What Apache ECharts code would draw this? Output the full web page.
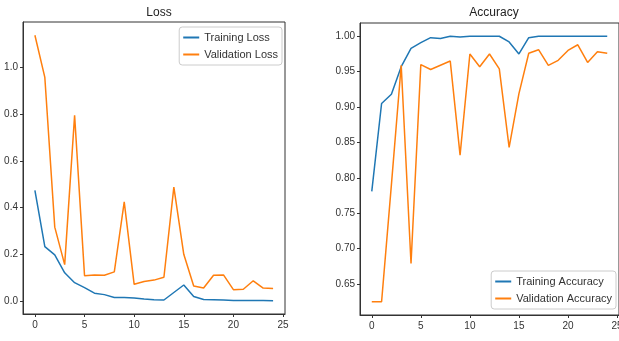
<!DOCTYPE html>
<html>
<head>
<meta charset="utf-8">
<script src="https://cdn.jsdelivr.net/npm/echarts@6/dist/echarts.min.js"></script>
<style>
  html, body { margin: 0; padding: 0; background: #fff; }
  #chart { width: 619px; height: 341px; }
</style>
</head>
<body>
<div id="chart"></div>
<script>
// epochs 0..24
const epochs = Array.from({ length: 25 }, (_, i) => i);
const xTicks = [0, 5, 10, 15, 20, 25];

const trainLoss = [0.474, 0.234, 0.199, 0.122, 0.080, 0.059, 0.035, 0.029, 0.017, 0.017,
  0.015, 0.010, 0.007, 0.006, 0.038, 0.070, 0.021, 0.008, 0.007, 0.006,
  0.004, 0.004, 0.004, 0.004, 0.003];
const valLoss = [1.136, 0.956, 0.317, 0.157, 0.794, 0.110, 0.113, 0.112, 0.126, 0.425,
  0.073, 0.085, 0.091, 0.103, 0.488, 0.201, 0.066, 0.057, 0.112, 0.113,
  0.050, 0.052, 0.088, 0.057, 0.055];
const lossTicks = [0.0, 0.2, 0.4, 0.6, 0.8, 1.0];

const trainAcc = [0.781, 0.905, 0.918, 0.957, 0.983, 0.991, 0.998, 0.997, 1.0, 0.999,
  1.0, 1.0, 1.0, 1.0, 0.992, 0.975, 0.998, 1.0, 1.0, 1.0,
  1.0, 1.0, 1.0, 1.0, 1.0];
const valAcc = [0.625, 0.625, 0.79, 0.959, 0.679, 0.960, 0.953, 0.959, 0.965, 0.832,
  0.975, 0.957, 0.975, 0.954, 0.843, 0.919, 0.976, 0.981, 0.959, 0.966,
  0.980, 0.988, 0.963, 0.978, 0.976];
const accTicks = [0.65, 0.70, 0.75, 0.80, 0.85, 0.90, 0.95, 1.00];

const BLUE = '#1f77b4';
const ORANGE = '#ff7f0e';
const FONT = "'Liberation Sans', Arial, sans-serif";

const pairs = (ys) => epochs.map((x, i) => [x, ys[i]]);

function xAxis(gridIndex) {
  return {
    type: 'value', gridIndex, min: -1.2, max: 25.2,
    axisLine: { show: true, onZero: false, lineStyle: { color: '#333', width: 1 } },
    axisTick: { show: true, length: 3, customValues: xTicks, lineStyle: { color: '#333' } },
    axisLabel: { customValues: xTicks, color: '#333', fontSize: 10, fontFamily: FONT, margin: 6 },
    splitLine: { show: false }
  };
}

function yAxis(gridIndex, min, max, ticks, digits) {
  return {
    type: 'value', gridIndex, min, max,
    axisLine: { show: true, onZero: false, lineStyle: { color: '#333', width: 1 } },
    axisTick: { show: true, length: 3, customValues: ticks, lineStyle: { color: '#333' } },
    axisLabel: {
      customValues: ticks, color: '#333', fontSize: 10, fontFamily: FONT, margin: 5,
      formatter: (v) => v.toFixed(digits)
    },
    splitLine: { show: false }
  };
}

function line(name, data, color, idx) {
  return {
    name, type: 'line', xAxisIndex: idx, yAxisIndex: idx, data: pairs(data),
    showSymbol: false, symbol: 'none', animation: false,
    lineStyle: { color, width: 1.5 }, itemStyle: { color }
  };
}

function legend(names, pos) {
  return Object.assign({
    orient: 'vertical', data: names,
    icon: 'rect', itemWidth: 16, itemHeight: 2, itemGap: 6,
    padding: [5, 4, 5, 4],
    backgroundColor: '#fff', borderColor: '#ccc', borderWidth: 1, borderRadius: 3,
    textStyle: { fontSize: 11, color: '#333', fontFamily: FONT }
  }, pos);
}

const chart = echarts.init(document.getElementById('chart'), null, { renderer: 'canvas' });
chart.setOption({
  animation: false,
  title: [
    { text: 'Loss', left: 154, top: 2, textAlign: 'center',
      textStyle: { fontSize: 12, fontWeight: 'normal', color: '#222', fontFamily: FONT } },
    { text: 'Accuracy', left: 489, top: 2, textAlign: 'center',
      textStyle: { fontSize: 12, fontWeight: 'normal', color: '#222', fontFamily: FONT } }
  ],
  grid: [
    { left: 23, top: 22, width: 262, height: 292, outerBoundsMode: 'none', containLabel: false,
      show: true, borderColor: '#333', borderWidth: 1, backgroundColor: '#fff' },
    { left: 360, top: 23, width: 259, height: 292, outerBoundsMode: 'none', containLabel: false,
      show: true, borderColor: '#333', borderWidth: 1, backgroundColor: '#fff' }
  ],
  xAxis: [xAxis(0), xAxis(1)],
  yAxis: [
    yAxis(0, -0.0537, 1.1927, lossTicks, 1),
    yAxis(1, 0.60625, 1.01875, accTicks, 2)
  ],
  legend: [
    legend(['Training Loss', 'Validation Loss'], { right: 337, top: 27 }),
    legend(['Training Accuracy', 'Validation Accuracy'], { right: 3, top: 271 })
  ],
  series: [
    line('Training Loss', trainLoss, BLUE, 0),
    line('Validation Loss', valLoss, ORANGE, 0),
    line('Training Accuracy', trainAcc, BLUE, 1),
    line('Validation Accuracy', valAcc, ORANGE, 1)
  ]
});
</script>
</body>
</html>
